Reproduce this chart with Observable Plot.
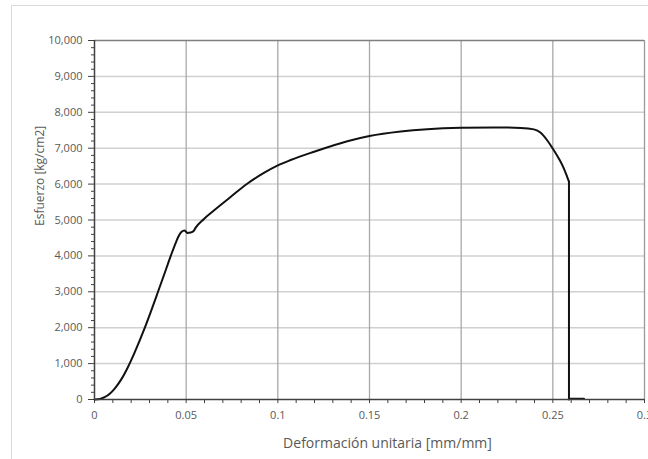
<!DOCTYPE html>
<html>
<head>
<meta charset="utf-8">
<script src="https://cdn.jsdelivr.net/npm/d3@7"></script>
<script src="https://cdn.jsdelivr.net/npm/@observablehq/plot@0.6"></script>
<style>
  html, body { margin: 0; padding: 0; background: #fff; }
  #wrap { position: relative; width: 648px; height: 459px; overflow: hidden; }
  #frame { position: absolute; left: 11px; top: 5px; width: 700px; height: 500px;
           border-left: 1px solid #d9d9d9; border-top: 1px solid #d9d9d9; }
  #chart { position: absolute; left: 0; top: 0; }
</style>
</head>
<body>
<div id="wrap"><div id="frame"></div><div id="chart"></div></div>
<script>
// Loading curve up to fracture: strain [mm/mm] and stress [kg/cm2]
const strain = [0, 0.003, 0.0055, 0.0085, 0.0109, 0.0146, 0.0182, 0.0218, 0.0273, 0.0309, 0.0345,
  0.0382, 0.0418, 0.0446, 0.0462, 0.0475, 0.049, 0.05, 0.0506, 0.0525, 0.0542, 0.0551,
  0.0597, 0.0651, 0.0742, 0.0833, 0.0924, 0.1, 0.107, 0.1197, 0.1379, 0.15, 0.167, 0.1815,
  0.2, 0.218, 0.2325, 0.2397, 0.2434, 0.247, 0.2501, 0.2534, 0.2561, 0.2579, 0.2588];
const stress = [0, 15, 64, 170, 298, 560, 900, 1300, 1980, 2470, 2980,
  3510, 4030, 4400, 4580, 4670, 4705, 4670, 4640, 4650, 4700, 4780,
  5030, 5265, 5640, 6010, 6310, 6520, 6670, 6900, 7195, 7340, 7465, 7530,
  7570, 7580, 7565, 7525, 7430, 7215, 6980, 6700, 6425, 6190, 6070];
// Fracture drop and tail
const fractureStrain = [0.2588, 0.2588, 0.2595, 0.267];
const fractureStress = [6070, 0, 20, 20];

const xTicks = [0, 0.05, 0.1, 0.15, 0.2, 0.25, 0.3];
const xTickLabels = ["0", "0.05", "0.1", "0.15", "0.2", "0.25", "0.3"];
const xMinor = [0.01, 0.02, 0.03, 0.04, 0.06, 0.07, 0.08, 0.09, 0.11, 0.12, 0.13, 0.14,
  0.16, 0.17, 0.18, 0.19, 0.21, 0.22, 0.23, 0.24, 0.26, 0.27, 0.28, 0.29];
const yTicks = [0, 1000, 2000, 3000, 4000, 5000, 6000, 7000, 8000, 9000, 10000];
const yMinor = d3.range(0, 10001, 200).filter(v => v % 1000 !== 0);
const xLabel = "Deformación unitaria [mm/mm]";
const yLabel = "Esfuerzo [kg/cm2]";

const loading = strain.map((x, i) => ({x, y: stress[i]}));
const fracture = fractureStrain.map((x, i) => ({x, y: fractureStress[i]}));

const chart = Plot.plot({
  width: 648,
  height: 459,
  marginLeft: 94,
  marginRight: 4,
  marginTop: 40,
  marginBottom: 60,
  x: {domain: [0, 0.3]},
  y: {domain: [0, 10000]},
  style: {fontFamily: "'Open Sans', sans-serif", fontSize: "11px", color: "#595959", background: "transparent", overflow: "visible"},
  marks: [
    Plot.gridY(yTicks.slice(1, -1), {stroke: "#d0d0d0", strokeOpacity: 1, strokeWidth: 1.5}),
    Plot.gridX(xTicks.slice(1, -1), {stroke: "#a8a8a8", strokeOpacity: 1, strokeWidth: 1.3}),
    Plot.ruleY([10000], {stroke: "#7f7f7f", strokeWidth: 1.5}),
    Plot.ruleX([0.3], {stroke: "#9a9a9a", strokeWidth: 1.3}),
    Plot.axisY({ticks: yMinor, tickSize: 3, tickFormat: () => "", stroke: "#404040", label: null}),
    Plot.axisY({ticks: yTicks, tickSize: 6, tickPadding: 6, tickFormat: d3.format(","), stroke: "#404040", fill: "#595959", label: null}),
    Plot.axisX({ticks: xMinor, tickSize: 4, tickFormat: () => "", stroke: "#404040", label: null}),
    Plot.axisX({ticks: xTicks, tickSize: 4, tickPadding: 8, tickFormat: d => xTickLabels[xTicks.indexOf(d)], stroke: "#404040", fill: "#595959", label: null}),
    Plot.line(loading, {x: "x", y: "y", stroke: "#111", strokeWidth: 2, curve: "monotone-x"}),
    Plot.line(fracture, {x: "x", y: "y", stroke: "#111", strokeWidth: 2, curve: "linear"}),
    Plot.ruleX([0], {stroke: "#404040", strokeWidth: 1.5}),
    Plot.ruleY([0], {stroke: "#404040", strokeWidth: 1.5}),
    Plot.text([xLabel], {frameAnchor: "bottom", dy: 48, dx: 18, fontSize: 14, fill: "#595959"}),
    Plot.text([yLabel], {frameAnchor: "left", rotate: -90, dx: -54, dy: 6, fontSize: 12, fill: "#595959"})
  ]
});
document.getElementById("chart").appendChild(chart);
</script>
</body>
</html>
